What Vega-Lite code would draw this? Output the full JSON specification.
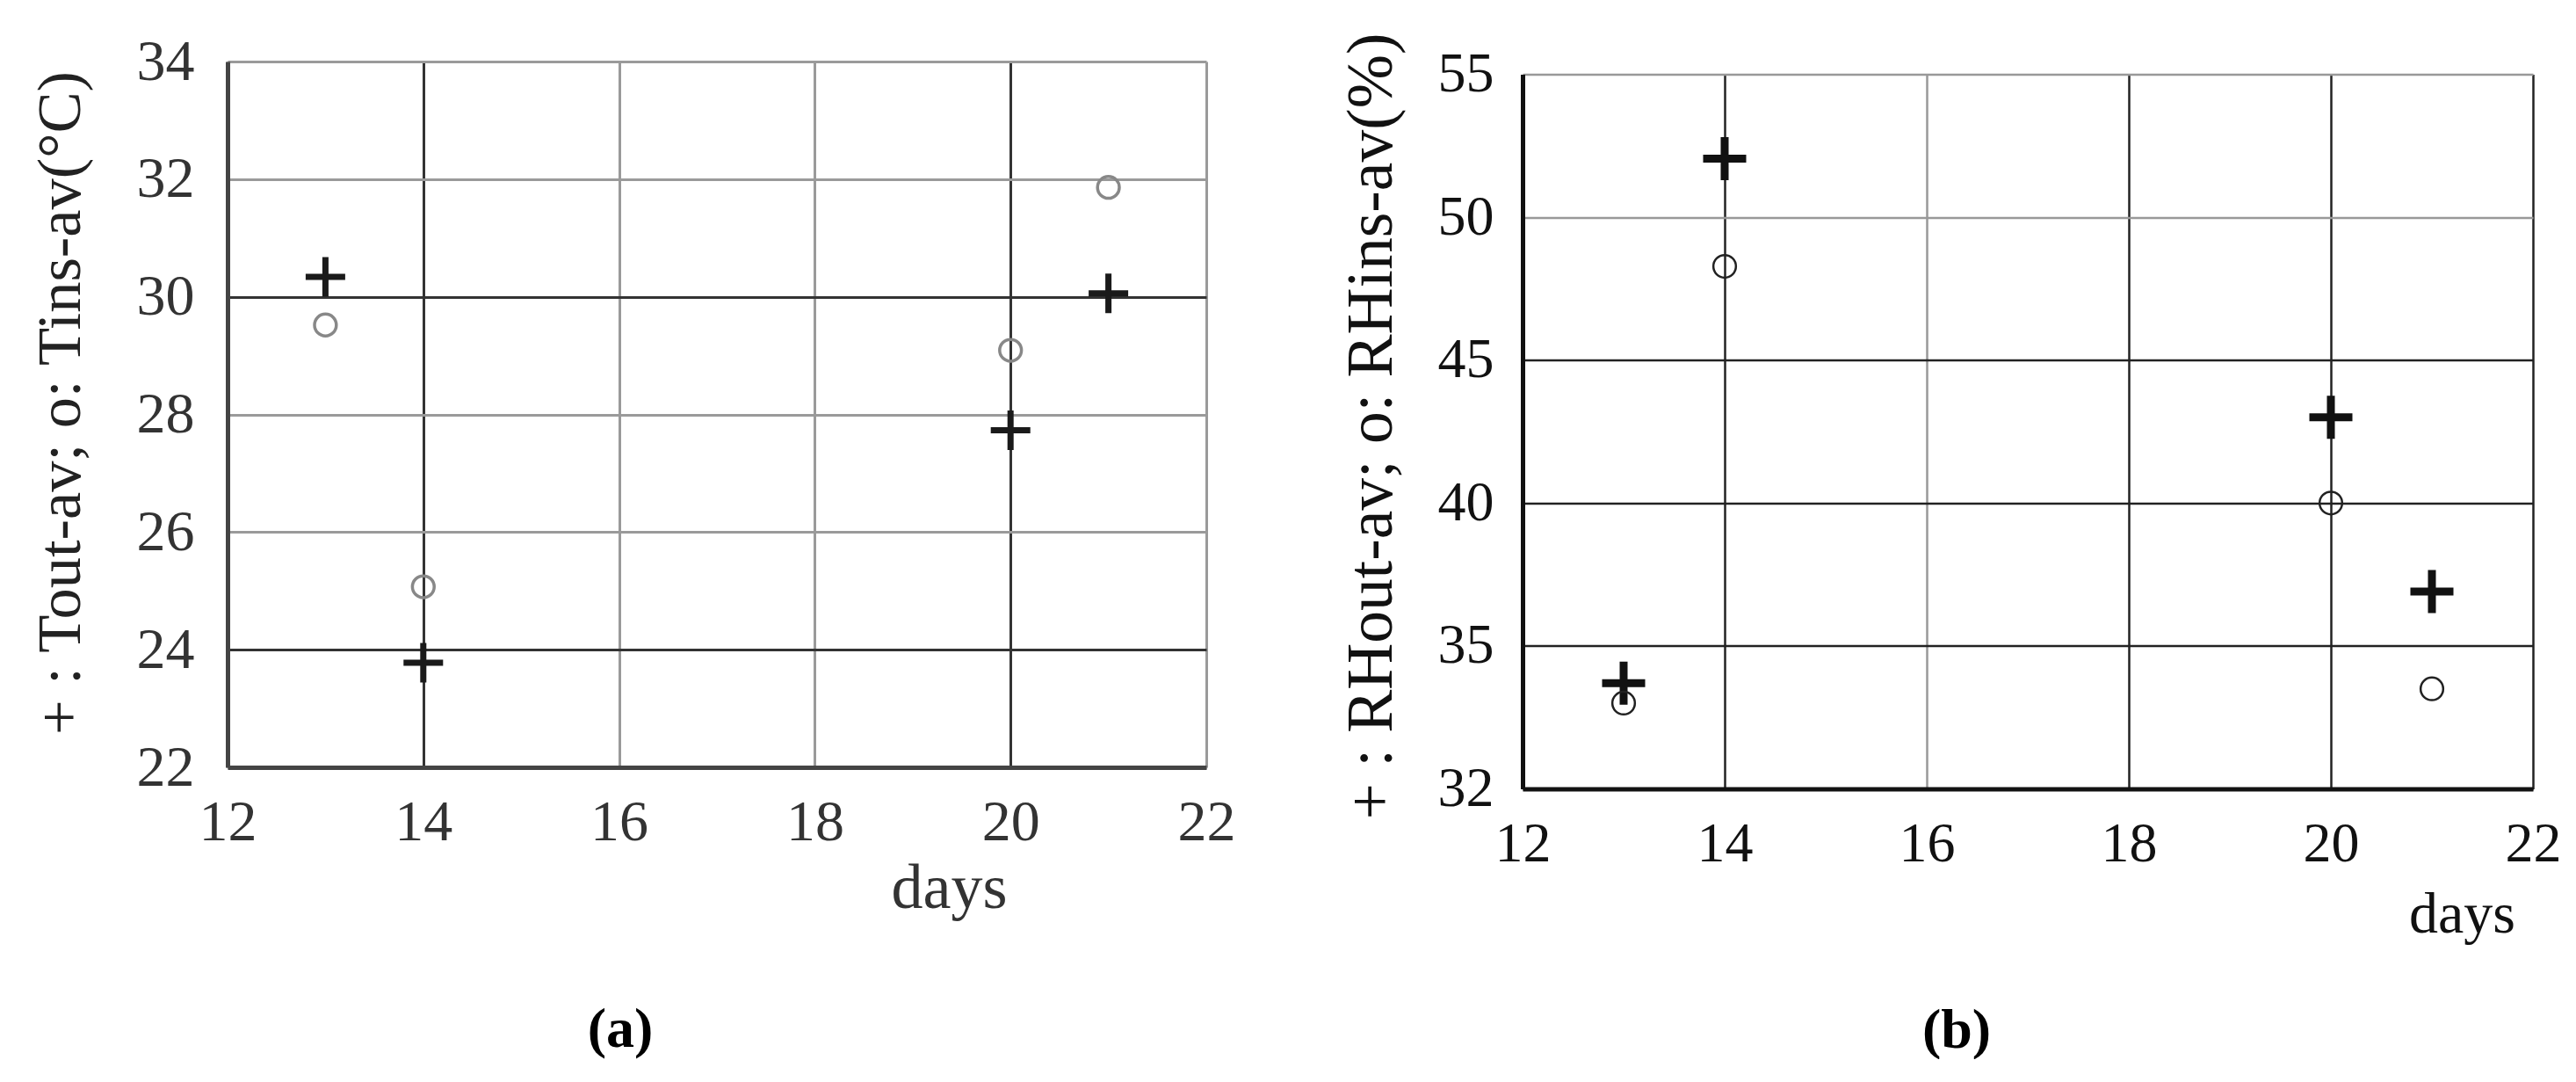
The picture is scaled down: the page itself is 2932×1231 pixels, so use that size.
{
  "$schema": "https://vega.github.io/schema/vega-lite/v6.json",
  "background": "white",
  "padding": {"left": 34, "top": 37, "right": 0, "bottom": 0},
  "autosize": {"type": "pad"},
  "config": {
    "view": {"stroke": null},
    "font": "Liberation Serif"
  },
  "spacing": 118,
  "datasets": {
    "temp": [
      {"day": 13, "series": "Tout-av", "value": 30.34},
      {"day": 14, "series": "Tout-av", "value": 23.78},
      {"day": 20, "series": "Tout-av", "value": 27.73},
      {"day": 21, "series": "Tout-av", "value": 30.06},
      {"day": 13, "series": "Tins-av", "value": 29.52},
      {"day": 14, "series": "Tins-av", "value": 25.07},
      {"day": 20, "series": "Tins-av", "value": 29.09},
      {"day": 21, "series": "Tins-av", "value": 31.86}
    ],
    "rh": [
      {"day": 13, "series": "RHout-av", "value": 33.7},
      {"day": 14, "series": "RHout-av", "value": 52.05},
      {"day": 20, "series": "RHout-av", "value": 43.0},
      {"day": 21, "series": "RHout-av", "value": 36.9},
      {"day": 13, "series": "RHins-av", "value": 33.0},
      {"day": 14, "series": "RHins-av", "value": 48.28},
      {"day": 20, "series": "RHins-av", "value": 40.0},
      {"day": 21, "series": "RHins-av", "value": 33.5}
    ],
    "empty": []
  },
  "hconcat": [
    {
      "width": 1114,
      "height": 803,
      "data": {"name": "temp"},
      "title": {"text": "(a)", "orient": "bottom", "anchor": "middle", "fontSize": 64, "fontWeight": "bold", "font": "Liberation Serif", "color": "#000", "offset": 94, "dx": -110},
      "encoding": {
        "x": {
          "field": "day", "type": "quantitative",
          "scale": {"domain": [12, 22], "nice": false, "zero": false},
          "axis": {
            "title": "days", "values": [12, 14, 16, 18, 20, 22], "grid": true, "ticks": false,
            "domainColor": "#444", "domainWidth": 5,
            "gridColor": {"condition": {"test": "datum.value == 14 || datum.value == 20", "value": "#333"}, "value": "#9a9a9a"},
            "gridWidth": 3,
            "labelFont": "Liberation Serif", "labelFontSize": 66, "labelColor": "#333", "labelPadding": 30,
            "labelFlush": false, "labelOverlap": false,
            "titleFont": "Liberation Serif", "titleFontSize": 72, "titleFontWeight": "normal", "titleColor": "#333",
            "titleX": 821, "titleY": 159, "titleBaseline": "alphabetic", "titleAlign": "center"
          }
        },
        "y": {
          "field": "value", "type": "quantitative",
          "scale": {"domain": [22, 34], "nice": false, "zero": false},
          "axis": {
            "title": "+ : Tout-av; o: Tins-av(°C)", "values": [22, 24, 26, 28, 30, 32, 34], "grid": true, "ticks": false,
            "domainColor": "#444", "domainWidth": 5,
            "gridColor": {"condition": {"test": "datum.value == 30 || datum.value == 24", "value": "#333"}, "value": "#9a9a9a"},
            "gridWidth": 3,
            "labelFont": "Liberation Serif", "labelFontSize": 66, "labelColor": "#333", "labelPadding": 38, "labelOverlap": false,
            "titleFont": "Liberation Serif", "titleFontSize": 70.5, "titleFontWeight": "normal", "titleColor": "#222",
            "titlePadding": 50, "titleY": 388
          }
        }
      },
      "layer": [
        {
          "transform": [{"filter": "datum.series == 'Tout-av'"}],
          "mark": {"type": "point", "shape": "M-1,0H1M0,-1V1", "filled": false, "stroke": "#1a1a1a", "strokeWidth": 7, "size": 2025, "opacity": 1}
        },
        {
          "transform": [{"filter": "datum.series == 'Tins-av'"}],
          "mark": {"type": "point", "shape": "circle", "filled": false, "stroke": "#888", "strokeWidth": 3.5, "size": 616, "opacity": 1}
        }
      ]
    },
    {
      "spacing": -34.5,
      "vconcat": [
        {
          "width": 1,
          "height": 1,
          "data": {"name": "empty"},
          "mark": {"type": "point", "opacity": 0}
        },
        {
          "width": 1150,
          "height": 813,
          "data": {"name": "rh"},
          "title": {"text": "(b)", "orient": "bottom", "anchor": "middle", "fontSize": 64, "fontWeight": "bold", "font": "Liberation Serif", "color": "#000", "offset": 67, "dx": -81},
          "encoding": {
            "x": {
              "field": "day", "type": "quantitative",
              "scale": {"domain": [12, 22], "nice": false, "zero": false},
              "axis": {
                "title": "days", "values": [12, 14, 16, 18, 20, 22], "grid": true, "ticks": false,
                "domainColor": "#111", "domainWidth": 5,
                "gridColor": {"condition": {"test": "datum.value == 16", "value": "#999"}, "value": "#222"},
                "gridWidth": 2.5,
                "labelFont": "Liberation Serif", "labelFontSize": 64, "labelColor": "#111", "labelPadding": 31,
                "labelFlush": false, "labelOverlap": false,
                "titleFont": "Liberation Serif", "titleFontSize": 66, "titleFontWeight": "normal", "titleColor": "#111",
                "titleX": 1069, "titleY": 163, "titleBaseline": "alphabetic", "titleAlign": "center"
              }
            },
            "y": {
              "field": "value", "type": "quantitative",
              "scale": {"domain": [30, 55], "nice": false, "zero": false},
              "axis": {
                "title": "+ : RHout-av; o: RHins-av(%)", "values": [30, 35, 40, 45, 50, 55], "grid": true, "ticks": false,
                "labelExpr": "datum.value == 30 ? '32' : datum.label",
                "domainColor": "#111", "domainWidth": 5,
                "gridColor": {"condition": {"test": "datum.value >= 50", "value": "#999"}, "value": "#222"},
                "gridWidth": 2.5,
                "labelFont": "Liberation Serif", "labelFontSize": 64, "labelColor": "#111", "labelPadding": 33, "labelOverlap": false,
                "titleFont": "Liberation Serif", "titleFontSize": 73.5, "titleFontWeight": "normal", "titleColor": "#111",
                "titlePadding": 38, "titleY": 400
              }
            }
          },
          "layer": [
            {
              "transform": [{"filter": "datum.series == 'RHout-av'"}],
              "mark": {"type": "point", "shape": "M-1,0H1M0,-1V1", "filled": false, "stroke": "#111", "strokeWidth": 9, "size": 2401, "opacity": 1}
            },
            {
              "transform": [{"filter": "datum.series == 'RHins-av'"}],
              "mark": {"type": "point", "shape": "circle", "filled": false, "stroke": "#222", "strokeWidth": 2.5, "size": 660, "opacity": 1}
            }
          ]
        }
      ]
    }
  ]
}
